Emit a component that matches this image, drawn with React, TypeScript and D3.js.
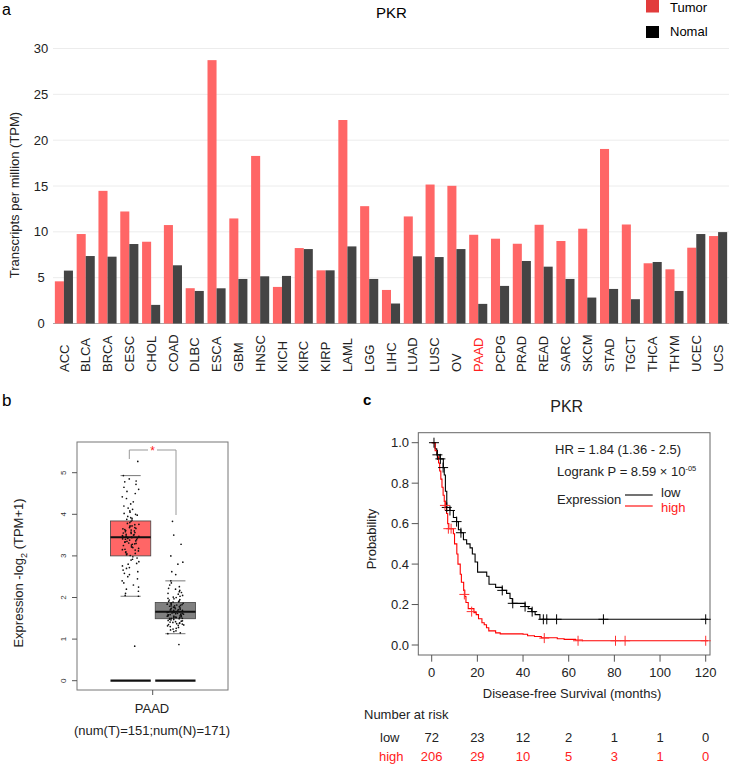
import React from 'react';
import * as d3 from 'd3';

// ---------- Panel a data ----------
const cancers = ['ACC','BLCA','BRCA','CESC','CHOL','COAD','DLBC','ESCA','GBM','HNSC','KICH','KIRC','KIRP','LAML','LGG','LIHC','LUAD','LUSC','OV','PAAD','PCPG','PRAD','READ','SARC','SKCM','STAD','TGCT','THCA','THYM','UCEC','UCS'];
const tumorTPM = [4.6,9.76,14.47,12.22,8.92,10.74,3.85,28.73,11.46,18.28,3.99,8.23,5.8,22.2,12.8,3.66,11.68,15.16,15.02,9.68,9.25,8.7,10.77,9.0,10.34,19.04,10.8,6.57,5.91,8.27,9.54];
const normalTPM = [5.77,7.36,7.29,8.67,2.03,6.35,3.55,3.84,4.86,5.15,5.19,8.12,5.8,8.41,4.86,2.18,7.33,7.25,8.12,2.14,4.1,6.82,6.2,4.86,2.83,3.77,2.65,6.71,3.55,9.76,9.97];
const yTicksA = [0,5,10,15,20,25,30];
const legendA = ['Tumor','Nomal'];
const highlighted = 'PAAD';

// ---------- Panel b data ----------
const groupsB = ['Tumor','Normal'];
const tumorBox = { q1: 3.0, median: 3.45, q3: 3.84, low: 2.03, high: 4.93 };
const normalBox = { q1: 1.49, median: 1.66, q3: 1.88, low: 1.13, high: 2.4 };
const tumorPoints = [5.27,0.83,4.93,4.85,4.8,4.78,4.72,4.65,4.6,4.55,4.5,4.42,4.38,4.3,4.25,4.2,4.15,4.12,4.08,4.05,4.02,4.0,
  3.98,3.95,3.92,3.9,3.88,3.86,3.83,3.8,3.78,3.76,3.75,3.72,3.7,3.68,3.66,3.65,3.63,3.62,3.6,3.58,3.57,3.55,3.54,3.52,3.5,3.49,3.48,3.47,3.46,3.45,3.44,3.43,3.42,3.41,3.4,3.38,3.36,3.35,3.33,3.31,3.3,3.28,3.26,3.25,3.22,3.2,3.18,3.16,3.14,3.12,3.1,3.08,3.06,3.05,3.03,3.01,
  3.72,3.68,3.61,3.56,3.51,3.47,3.44,3.39,3.34,3.29,3.21,3.15,
  2.98,2.95,2.92,2.9,2.86,2.82,2.8,2.76,2.72,2.7,2.66,2.62,2.58,2.55,2.5,2.45,2.4,2.35,2.3,2.25,2.2,2.15,2.1,2.05,2.03];
const normalPoints = [3.83,3.5,3.28,3.0,2.85,2.8,2.62,2.55,0.87,
  2.4,2.35,2.3,2.26,2.22,2.2,2.17,2.14,2.12,2.1,2.08,2.05,2.03,2.01,2.0,1.98,1.97,1.95,1.94,1.92,1.91,1.9,1.89,
  1.87,1.86,1.85,1.84,1.83,1.82,1.81,1.8,1.79,1.78,1.77,1.76,1.75,1.74,1.73,1.72,1.71,1.7,1.69,1.68,1.67,1.66,1.66,1.65,1.65,1.64,1.63,1.62,1.61,1.6,1.6,1.59,1.58,1.57,1.56,1.56,1.55,1.54,1.53,1.53,1.52,1.51,1.5,1.5,1.49,
  1.84,1.8,1.76,1.72,1.69,1.67,1.64,1.62,1.58,1.55,1.52,1.5,
  1.48,1.47,1.46,1.45,1.44,1.43,1.42,1.41,1.4,1.39,1.38,1.37,1.36,1.35,1.34,1.33,1.32,1.3,1.28,1.26,1.24,1.22,1.2,1.18,1.15,1.13];
const yTicksB = [0,1,2,3,4,5];

// ---------- Panel c data ----------
const lowTime = [0,1.5,2.2,3.6,5.1,5.5,6.0,6.6,8.0,9.5,10.9,11.7,12.8,13.9,15.3,16.8,17.8,19.0,20.1,24.1,25.1,28.0,30.9,32.8,34.3,35.3,40.9,42.3,43.8,45.3,47.4,121];
const lowSurv = [1,0.97,0.94,0.92,0.877,0.84,0.76,0.68,0.665,0.63,0.61,0.57,0.555,0.52,0.5,0.48,0.45,0.41,0.36,0.34,0.30,0.285,0.27,0.255,0.23,0.206,0.19,0.18,0.165,0.15,0.127,0.127];
const highTime = [0,1.5,2.5,3,3.5,4,4.5,5,5.5,6,6.5,7,7.5,9.5,10,11,11.5,12.5,13,14,14.5,15,16,18.5,19.5,20.5,22,23,24,25,28,30,40,42,45,48,55,58,63,66,121];
const highSurv = [1,0.96,0.93,0.9,0.86,0.82,0.78,0.74,0.71,0.68,0.65,0.6,0.575,0.55,0.5,0.45,0.4,0.35,0.31,0.27,0.24,0.21,0.18,0.16,0.15,0.13,0.11,0.1,0.085,0.07,0.06,0.055,0.053,0.046,0.042,0.036,0.031,0.028,0.025,0.021,0.021];
const lowCensorT = [1,2.5,3.8,5,6.6,8,10.9,12.8,30.9,35.5,40.9,44,48.9,50.4,54.7,75.2,120];
const lowCensorS = [1,0.94,0.92,0.877,0.68,0.665,0.61,0.555,0.27,0.206,0.19,0.165,0.127,0.127,0.127,0.127,0.127];
const highCensorT = [5.8,7.3,8.5,14.3,17.5,49.3,64.1,80.5,84.7,120];
const highCensorS = [0.69,0.575,0.575,0.25,0.165,0.034,0.021,0.021,0.021,0.021];
const xTicksC = [0,20,40,60,80,100,120];
const yTicksC = [0,0.2,0.4,0.6,0.8,1.0];
const riskLow = [72,23,12,2,1,1,0];
const riskHigh = [206,29,10,5,3,1,0];

const FONT = "'Liberation Sans', Arial, Helvetica, sans-serif";

// deterministic horizontal jitter (layout only)
const jitter = (i: number) => {
  const s = Math.sin(i * 78.233 + 12.9898) * 43758.5453;
  return s - Math.floor(s) - 0.5;
};

export default function App() {
  // ----- Panel a scales -----
  const xA = d3.scaleBand<string>().domain(cancers).range([53, 729]).paddingInner(0.17).paddingOuter(0.085);
  const xSub = d3.scaleBand<string>().domain(['T', 'N']).range([0, xA.bandwidth()]);
  const yA = d3.scaleLinear().domain([0, 30]).range([323.5, 48.5]);

  // ----- Panel b scales -----
  const xB = d3.scaleBand<string>().domain(groupsB).range([106, 200]).padding(0.1);
  const yB = d3.scaleLinear().domain([0, 5]).range([680.7, 472.7]);
  const boxes = [
    { g: 'Tumor', s: tumorBox, pts: tumorPoints, fill: '#ff6666' },
    { g: 'Normal', s: normalBox, pts: normalPoints, fill: '#808080' },
  ];

  // ----- Panel c scales -----
  const xC = d3.scaleLinear().domain([0, 120]).range([431.7, 705.7]);
  const yC = d3.scaleLinear().domain([0, 1]).range([645, 442.7]);
  const km = d3.line<[number, number]>().x(d => xC(d[0])).y(d => yC(d[1])).curve(d3.curveStepAfter);
  const lowPath = km(lowTime.map((t, i) => [t, lowSurv[i]] as [number, number])) || '';
  const highPath = km(highTime.map((t, i) => [t, highSurv[i]] as [number, number])) || '';

  const cross = (x: number, y: number, color: string, key: string) => (
    <g key={key} stroke={color} strokeWidth={1}>
      <line x1={x - 5} x2={x + 5} y1={y} y2={y} />
      <line x1={x} x2={x} y1={y - 5} y2={y + 5} />
    </g>
  );

  return (
    <svg width={729} height={764} style={{ position: 'absolute', left: 0, top: 0, background: '#fff' }} fontFamily={FONT}>
      <rect width={729} height={764} fill="#fff" />
      {/* ================= Panel a ================= */}
      <text x={2} y={15} fontSize={16}>a</text>
      <text x={376} y={18} fontSize={15}>PKR</text>
      {/* legend */}
      <rect x={646} y={0} width={13} height={12.5} fill="#e23b3b" />
      <text x={670} y={12} fontSize={13}>{legendA[0]}</text>
      <rect x={646} y={26} width={13} height={12} fill="#000" />
      <text x={670} y={36} fontSize={13}>{legendA[1]}</text>
      {/* grid */}
      {yTicksA.map(t => (
        <g key={'ga' + t}>
          <line x1={53} x2={729} y1={yA(t)} y2={yA(t)} stroke={t === 0 ? '#a8a8a8' : '#ececec'} strokeWidth={1} />
          <text x={41} y={yA(t) + 4.5} fontSize={13} textAnchor="middle" fill="#222">{t}</text>
        </g>
      ))}
      <text transform={`translate(19,195) rotate(-90)`} fontSize={13} textAnchor="middle" fill="#222">Transcripts per million (TPM)</text>
      {cancers.map((c, i) => {
        const x0 = xA(c) as number;
        const w = xSub.bandwidth();
        return (
          <g key={c}>
            <rect x={x0 + (xSub('T') as number)} y={yA(tumorTPM[i])} width={w} height={yA(0) - yA(tumorTPM[i])} fill="#ff6666" />
            <rect x={x0 + (xSub('N') as number)} y={yA(normalTPM[i])} width={w} height={yA(0) - yA(normalTPM[i])} fill="#444444" />
            <text transform={`translate(${x0 + xA.bandwidth() / 2 + 4.6},372) rotate(-90)`} fontSize={13} textAnchor="start" fill={c === highlighted ? '#ff2020' : '#222'}>{c}</text>
          </g>
        );
      })}

      {/* ================= Panel b ================= */}
      <text x={2} y={406} fontSize={17}>b</text>
      <rect x={77} y={442} width={151} height={248} fill="none" stroke="#777" strokeWidth={1} />
      {yTicksB.map(t => (
        <g key={'gb' + t}>
          <line x1={72} x2={77} y1={yB(t)} y2={yB(t)} stroke="#555" />
          <text transform={`translate(65.5,${yB(t)}) rotate(-90)`} fontSize={8} textAnchor="middle" fill="#333">{t}</text>
        </g>
      ))}
      <text transform={`translate(22.5,573) rotate(-90)`} fontSize={13} textAnchor="middle" fill="#222">
        Expression -log<tspan fontSize={9} dy={4}>2</tspan><tspan dy={-4}> (TPM+1)</tspan>
      </text>
      {boxes.map(b => {
        const x0 = xB(b.g) as number;
        const w = xB.bandwidth();
        const cx = x0 + w / 2;
        const capW = w * 0.5;
        return (
          <g key={b.g}>
            <line x1={cx - capW / 2} x2={cx + capW / 2} y1={yB(b.s.high)} y2={yB(b.s.high)} stroke="#777" />
            <line x1={cx - capW / 2} x2={cx + capW / 2} y1={yB(b.s.low)} y2={yB(b.s.low)} stroke="#777" />
            <rect x={x0} y={yB(b.s.q3)} width={w} height={yB(b.s.q1) - yB(b.s.q3)} fill={b.fill} stroke="#444" strokeWidth={0.8} />
            <line x1={x0} x2={x0 + w} y1={yB(b.s.median)} y2={yB(b.s.median)} stroke="#111" strokeWidth={2} />
            <line x1={x0} x2={x0 + w} y1={yB(0)} y2={yB(0)} stroke="#111" strokeWidth={2.2} />
            {b.pts.map((v, i) => (
              <circle key={i} cx={cx + jitter(i + (b.g === 'Tumor' ? 0 : 500)) * 17} cy={yB(v)} r={0.85} fill="#111" />
            ))}
          </g>
        );
      })}
      {/* significance bracket */}
      <g stroke="#999" strokeWidth={1} fill="none">
        <path d={`M129.3,459 V450 H148`} />
        <path d={`M157,450 H176 V515`} />
      </g>
      <text x={152.5} y={455} fontSize={12} textAnchor="middle" fill="#ff2020">*</text>
      <line x1={152.7} x2={152.7} y1={690} y2={695} stroke="#555" />
      <text x={152} y={713} fontSize={13} textAnchor="middle" fill="#222">PAAD</text>
      <text x={152} y={735} fontSize={13} textAnchor="middle" fill="#222">(num(T)=151;num(N)=171)</text>

      {/* ================= Panel c ================= */}
      <text x={363} y={405} fontSize={15} fontWeight="bold">c</text>
      <text x={566.7} y={412} fontSize={16} textAnchor="middle" fill="#222">PKR</text>
      <rect x={418.3} y={432.7} width={291.7} height={222.3} fill="none" stroke="#666" strokeWidth={1} />
      {yTicksC.map(t => (
        <g key={'gc' + t}>
          <line x1={411.7} x2={418.3} y1={yC(t)} y2={yC(t)} stroke="#555" />
          <text x={409} y={yC(t) + 4.5} fontSize={13} textAnchor="end" fill="#222">{t.toFixed(1)}</text>
        </g>
      ))}
      {xTicksC.map(t => (
        <g key={'xc' + t}>
          <line x1={xC(t)} x2={xC(t)} y1={655} y2={661.7} stroke="#555" />
          <text x={xC(t)} y={677} fontSize={13} textAnchor="middle" fill="#222">{t}</text>
        </g>
      ))}
      <text x={572} y={698} fontSize={13} textAnchor="middle" fill="#222">Disease-free Survival (months)</text>
      <text transform={`translate(376,539) rotate(-90)`} fontSize={13} textAnchor="middle" fill="#222">Probability</text>
      <path d={lowPath} fill="none" stroke="#000" strokeWidth={1.1} />
      <path d={highPath} fill="none" stroke="#ff0000" strokeWidth={1.1} />
      {lowCensorT.map((t, i) => cross(xC(t), yC(lowCensorS[i]), '#000', 'lc' + i))}
      {highCensorT.map((t, i) => cross(xC(t), yC(highCensorS[i]), '#ff3030', 'hc' + i))}
      <text x={555} y={454} fontSize={13} fill="#222">HR = 1.84 (1.36 - 2.5)</text>
      <text x={557} y={476} fontSize={13} fill="#222">Logrank P = 8.59 × 10<tspan fontSize={7.5} dy={-5}>-05</tspan></text>
      <text x={557} y={504} fontSize={13} fill="#222">Expression</text>
      <line x1={625} x2={652.7} y1={495} y2={495} stroke="#000" strokeWidth={1.1} />
      <line x1={625} x2={652.7} y1={506} y2={506} stroke="#ff0000" strokeWidth={1.1} />
      <text x={661} y={497} fontSize={13} fill="#222">low</text>
      <text x={661} y={512} fontSize={13} fill="#ff2020">high</text>
      <text x={364} y={719} fontSize={13} fill="#222">Number at risk</text>
      <text x={380} y={742} fontSize={13} fill="#222">low</text>
      <text x={379} y={761} fontSize={13} fill="#ff2020">high</text>
      {xTicksC.map((t, i) => (
        <g key={'r' + t}>
          <text x={xC(t)} y={742} fontSize={13} textAnchor="middle" fill="#222">{riskLow[i]}</text>
          <text x={xC(t)} y={761} fontSize={13} textAnchor="middle" fill="#ff2020">{riskHigh[i]}</text>
        </g>
      ))}
    </svg>
  );
}
